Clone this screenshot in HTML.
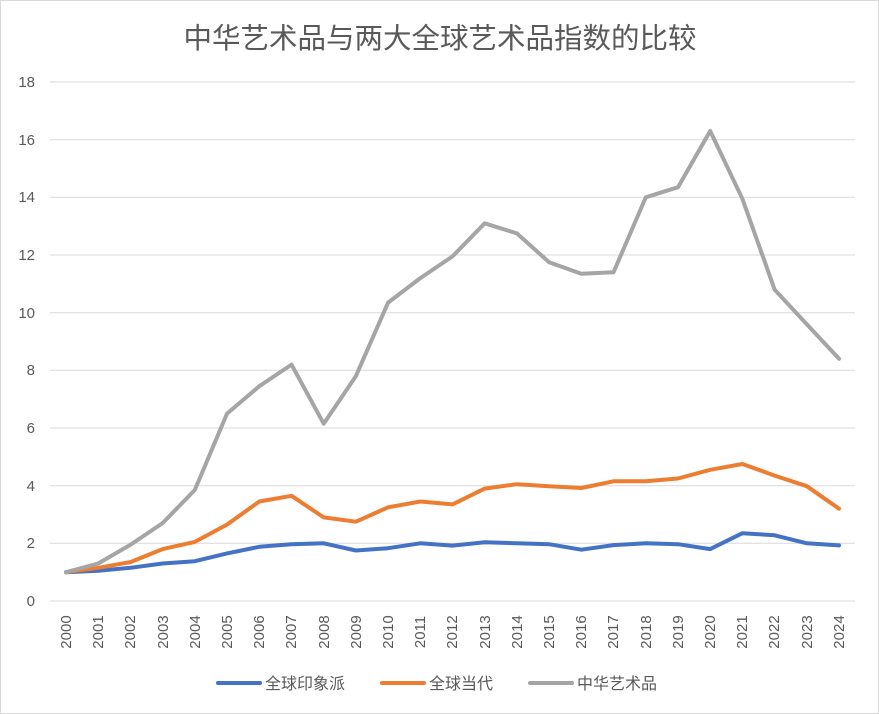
<!DOCTYPE html>
<html><head><meta charset="utf-8"><style>
body{margin:0;background:#fff}
svg{display:block}
text{font-family:"Liberation Sans","Noto Sans CJK SC",sans-serif;fill:#595959}
</style></head><body>
<svg id="c" width="879" height="714" xmlns="http://www.w3.org/2000/svg">
<rect x="0.5" y="0.5" width="878" height="713" fill="#fff" stroke="#d9d9d9"/>
<text x="440" y="48" font-size="28.5" text-anchor="middle">中华艺术品与两大全球艺术品指数的比较</text>
<g stroke="#d9d9d9" stroke-width="1">
<line x1="50" x2="855" y1="601" y2="601"/>
<line x1="50" x2="855" y1="543.3" y2="543.3"/>
<line x1="50" x2="855" y1="485.7" y2="485.7"/>
<line x1="50" x2="855" y1="428" y2="428"/>
<line x1="50" x2="855" y1="370.3" y2="370.3"/>
<line x1="50" x2="855" y1="312.7" y2="312.7"/>
<line x1="50" x2="855" y1="255" y2="255"/>
<line x1="50" x2="855" y1="197.3" y2="197.3"/>
<line x1="50" x2="855" y1="139.7" y2="139.7"/>
<line x1="50" x2="855" y1="82" y2="82"/>
</g>
<g font-size="15" text-anchor="end">
<text x="35" y="606">0</text><text x="35" y="548">2</text><text x="35" y="491">4</text>
<text x="35" y="433">6</text><text x="35" y="375">8</text><text x="35" y="318">10</text>
<text x="35" y="260">12</text><text x="35" y="202">14</text><text x="35" y="145">16</text>
<text x="35" y="87">18</text>
</g>
<g font-size="15" text-anchor="middle">
<text transform="translate(71,632) rotate(-90)">2000</text>
<text transform="translate(103,632) rotate(-90)">2001</text>
<text transform="translate(135,632) rotate(-90)">2002</text>
<text transform="translate(168,632) rotate(-90)">2003</text>
<text transform="translate(200,632) rotate(-90)">2004</text>
<text transform="translate(232,632) rotate(-90)">2005</text>
<text transform="translate(264,632) rotate(-90)">2006</text>
<text transform="translate(296,632) rotate(-90)">2007</text>
<text transform="translate(329,632) rotate(-90)">2008</text>
<text transform="translate(361,632) rotate(-90)">2009</text>
<text transform="translate(393,632) rotate(-90)">2010</text>
<text transform="translate(425,632) rotate(-90)">2011</text>
<text transform="translate(457,632) rotate(-90)">2012</text>
<text transform="translate(490,632) rotate(-90)">2013</text>
<text transform="translate(522,632) rotate(-90)">2014</text>
<text transform="translate(554,632) rotate(-90)">2015</text>
<text transform="translate(586,632) rotate(-90)">2016</text>
<text transform="translate(618,632) rotate(-90)">2017</text>
<text transform="translate(651,632) rotate(-90)">2018</text>
<text transform="translate(683,632) rotate(-90)">2019</text>
<text transform="translate(715,632) rotate(-90)">2020</text>
<text transform="translate(747,632) rotate(-90)">2021</text>
<text transform="translate(779,632) rotate(-90)">2022</text>
<text transform="translate(812,632) rotate(-90)">2023</text>
<text transform="translate(844,632) rotate(-90)">2024</text>
</g>
<g id="lines" fill="none" stroke-width="4" stroke-linejoin="round" stroke-linecap="round"></g>
<line x1="218" x2="260" y1="683" y2="683" stroke="#4472c4" stroke-width="4" stroke-linecap="round"/>
<text x="265" y="689" font-size="16">全球印象派</text>
<line x1="382" x2="424" y1="683" y2="683" stroke="#ed7d31" stroke-width="4" stroke-linecap="round"/>
<text x="429" y="689" font-size="16">全球当代</text>
<line x1="530" x2="572" y1="683" y2="683" stroke="#a5a5a5" stroke-width="4" stroke-linecap="round"/>
<text x="577" y="689" font-size="16">中华艺术品</text>
</svg>
<script>
var s={
"#a5a5a5":[1,1.3,1.95,2.7,3.85,6.5,7.45,8.2,6.15,7.8,10.35,11.2,11.95,13.1,12.75,11.75,11.35,11.4,14.0,14.35,16.3,13.95,10.8,9.6,8.4],
"#ed7d31":[1,1.15,1.35,1.8,2.05,2.65,3.45,3.65,2.9,2.75,3.25,3.45,3.35,3.9,4.05,3.98,3.92,4.15,4.15,4.25,4.55,4.75,4.35,3.98,3.2],
"#4472c4":[1,1.05,1.15,1.3,1.38,1.65,1.88,1.97,2.0,1.75,1.83,2.0,1.92,2.04,2.0,1.97,1.78,1.94,2.0,1.97,1.8,2.35,2.28,2.0,1.93]};
var g=document.getElementById("lines"),order=["#4472c4","#ed7d31","#a5a5a5"];
order.forEach(function(c){var p=s[c].map(function(v,i){return (66+i*773/24).toFixed(1)+","+(601-v*519/18).toFixed(1)}).join(" ");
var e=document.createElementNS("http://www.w3.org/2000/svg","polyline");e.setAttribute("points",p);e.setAttribute("stroke",c);g.appendChild(e);});
</script>
</body></html>
